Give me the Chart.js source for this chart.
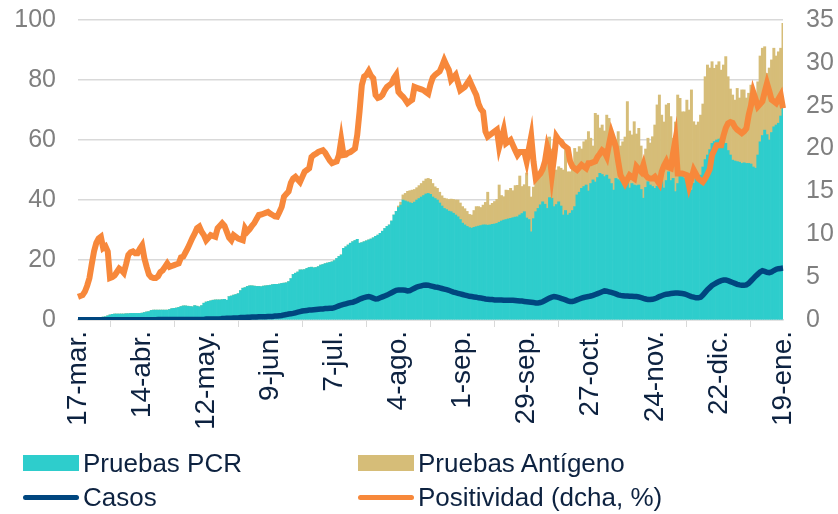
<!DOCTYPE html>
<html>
<head>
<meta charset="utf-8">
<script src="https://cdn.jsdelivr.net/npm/chart.js@4.4.0/dist/chart.umd.min.js"></script>
<style>
body { margin: 0; background: #ffffff; font-family: "Liberation Sans", Arial, sans-serif; }
#wrap { position: relative; width: 838px; height: 514px; }
.legend_swatch { position: absolute; }
.legend_text { position: absolute; color: #0d2240; font-size: 26px; line-height: 30px; white-space: nowrap; }
</style>
</head>
<body>
<div id="wrap">
    <canvas id="chart" width="838" height="514"></canvas>
    <div id="legend"></div>
</div>
<script>
// constants
const TICK_STEP = 28

// one value per day, 17-mar to 19-ene (one week per line)
// tests in thousands
var pcr_tests = [
    0.6, 0.6, 0.6, 0.6, 0.7, 0.7, 0.7,
    0.7, 0.8, 0.8, 0.9, 1.0, 1.1, 1.4,
    1.7, 1.9, 2.0, 2.0, 2.0, 2.0, 2.0,
    2.1, 2.1, 2.2, 2.2, 2.2, 2.2, 2.2,
    2.3, 2.5, 2.7, 2.8, 3.2, 3.3, 3.3,
    3.3, 3.3, 3.3, 3.3, 3.3, 3.5, 3.8,
    3.9, 4.0, 4.2, 4.5, 4.7, 4.7, 4.6,
    4.5, 4.4, 4.8, 4.6, 4.4, 4.8, 5.6,
    6.0, 6.2, 6.4, 6.6, 6.7, 6.7, 6.7,
    6.8, 6.9, 6.6, 7.8, 8.0, 8.3, 8.5,
    8.8, 9.8, 10.6, 10.8, 11.2, 11.4, 11.4,
    11.3, 11.2, 11.2, 11.1, 11.3, 11.4, 11.5,
    11.6, 11.8, 11.9, 11.9, 12.0, 12.2, 12.3,
    12.4, 12.8, 13.8, 15.2, 15.6, 16.0, 16.7,
    16.7, 16.8, 17.2, 17.5, 17.6, 17.4, 17.5,
    17.8, 18.3, 18.5, 18.8, 19.0, 19.2, 19.4,
    19.8, 20.5, 21.2, 21.7, 23.9, 24.4, 25.0,
    25.6, 26.1, 26.5, 26.9, 25.6, 25.8, 26.1,
    26.4, 26.7, 27.0, 27.4, 27.9, 28.3, 28.9,
    29.6, 30.5, 31.2, 31.7, 33.0, 35.0, 36.2,
    37.5, 38.3, 40.0, 39.7, 39.4, 39.1, 38.9,
    39.3, 40.0, 40.5, 41.0, 41.5, 42.0, 42.2,
    41.9, 41.0, 40.5, 40.0, 39.0, 38.0, 37.2,
    36.8, 36.3, 36.1, 35.6, 35.0, 34.4, 33.5,
    32.3, 31.7, 31.2, 30.8, 30.6, 30.9, 31.1,
    31.3, 31.5, 31.7, 31.7, 31.6, 31.7, 31.9,
    32.0, 32.2, 32.6, 33.0, 33.3, 33.5, 33.7,
    33.9, 34.1, 34.3, 34.4, 35.0, 35.5, 36.1,
    34.0, 33.5, 29.4, 33.8, 36.1, 37.2, 38.4,
    39.4, 38.6, 37.2, 40.8, 40.6, 37.8, 38.5,
    39.4, 38.0, 35.0, 36.5, 35.0, 35.6, 36.5,
    37.8, 41.7, 42.6, 43.9, 44.5, 45.0, 43.0,
    45.5, 46.7, 46.0, 47.5, 48.9, 48.5, 47.8,
    48.3, 47.0, 45.5, 43.3, 47.2, 46.8, 46.3,
    46.1, 45.8, 45.6, 44.0, 45.5, 45.0, 44.8,
    45.0, 43.5, 40.6, 44.2, 46.1, 45.0, 44.5,
    43.9, 44.6, 45.3, 46.1, 44.0, 46.5, 49.4,
    46.5, 47.2, 42.8, 45.5, 48.3, 47.8, 47.2,
    46.5, 45.8, 43.3, 45.6, 47.2, 47.6, 48.3,
    51.0, 53.5, 55.0, 56.8, 58.9, 59.5, 60.0,
    60.3, 60.6, 60.0, 58.9, 56.5, 55.0, 53.3,
    53.0, 52.8, 52.6, 52.2, 52.4, 52.2, 52.2,
    52.0, 51.0, 50.6, 55.0, 59.4, 61.5, 63.3,
    61.8, 60.0, 62.5, 64.4, 65.0, 65.6, 68.0,
    70.6
]

var antigen_tests = [
    0, 0, 0, 0, 0, 0, 0,
    0, 0, 0, 0, 0, 0, 0,
    0, 0, 0, 0, 0, 0, 0,
    0, 0, 0, 0, 0, 0, 0,
    0, 0, 0, 0, 0, 0, 0,
    0, 0, 0, 0, 0, 0, 0,
    0, 0, 0, 0, 0, 0, 0,
    0, 0, 0, 0, 0, 0, 0,
    0, 0, 0, 0, 0, 0, 0,
    0, 0, 0, 0, 0, 0, 0,
    0, 0, 0, 0, 0, 0, 0,
    0, 0, 0, 0, 0, 0, 0,
    0, 0, 0, 0, 0, 0, 0,
    0, 0, 0, 0, 0, 0, 0,
    0, 0, 0, 0, 0, 0, 0,
    0, 0, 0, 0, 0, 0, 0,
    0, 0, 0, 0, 0, 0, 0,
    0, 0, 0, 0, 0, 0, 0,
    0, 0, 0, 0, 0, 0, 0,
    0, 0, 0, 0, 0, 0, 0,
    0.5, 1.0, 1.7, 2.5, 3.5, 4.0, 4.4,
    4.2, 4.1, 4.3, 4.5, 4.8, 5.0, 5.0,
    5.0, 4.5, 3.9, 3.9, 3.6, 3.4, 3.4,
    3.6, 3.9, 4.2, 4.6, 5.0, 5.6, 5.5,
    5.5, 5.4, 5.0, 4.4, 4.4, 5.6, 6.7,
    6.5, 6.0, 6.6, 7.5, 11.0, 6.6, 7.0,
    7.5, 8.0, 12.4, 8.5, 7.8, 9.8, 9.5,
    10.0, 9.0, 10.5, 10.5, 13.0, 9.0, 9.0,
    15.0, 11.0, 11.6, 10.5, 10.0, 11.0, 11.0,
    10.0, 12.0, 18.8, 20.2, 16.4, 11.6, 11.5,
    11.7, 12.6, 15.0, 20.2, 14.4, 13.8, 15.5,
    19.4, 14.3, 15.2, 13.1, 14.9, 15.0, 19.8,
    15.1, 11.3, 22.9, 20.8, 15.1, 16.5, 15.2,
    20.0, 20.2, 14.5, 15.6, 12.8, 16.0, 11.7,
    13.3, 15.2, 27.2, 19.0, 16.2, 21.1, 17.2,
    18.9, 14.5, 12.2, 12.8, 14.5, 14.0, 16.6,
    21.1, 27.1, 29.7, 22.2, 22.0, 25.2, 22.8,
    21.3, 13.4, 23.2, 29.5, 25.6, 21.6, 22.2,
    26.8, 24.2, 33.4, 20.5, 17.8, 18.4, 20.0,
    21.0, 27.6, 30.0, 27.2, 27.2, 24.4, 25.0,
    25.8, 22.7, 25.0, 28.9, 24.6, 22.0, 21.7,
    20.3, 24.4, 21.4, 24.5, 24.3, 21.8, 23.4,
    26.3, 24.0, 23.8, 24.4, 28.6, 29.1, 27.8,
    20.4, 24.0, 24.2, 26.2, 23.0, 23.8, 22.6,
    28.3
]

// cases in thousands
var cases = [
    0.1, 0.1, 0.1, 0.1, 0.1, 0.1, 0.1,
    0.1, 0.1, 0.1, 0.1, 0.1, 0.1, 0.1,
    0.1, 0.1, 0.1, 0.1, 0.1, 0.1, 0.1,
    0.1, 0.1, 0.1, 0.1, 0.1, 0.1, 0.1,
    0.1, 0.1, 0.1, 0.1, 0.1, 0.1, 0.1,
    0.15, 0.15, 0.15, 0.15, 0.15, 0.15, 0.15,
    0.15, 0.15, 0.15, 0.15, 0.15, 0.15, 0.15,
    0.2, 0.2, 0.2, 0.2, 0.2, 0.2, 0.2,
    0.3, 0.3, 0.3, 0.3, 0.3, 0.3, 0.3,
    0.5, 0.5, 0.6, 0.6, 0.6, 0.7, 0.7,
    0.7, 0.8, 0.8, 0.8, 0.9, 0.9, 1.0,
    1.0, 1.0, 1.1, 1.1, 1.1, 1.1, 1.2,
    1.2, 1.2, 1.3, 1.3, 1.4, 1.5, 1.7,
    1.8, 2.0, 2.1, 2.2, 2.4, 2.6, 2.8,
    3.0, 3.1, 3.2, 3.3, 3.3, 3.4, 3.5,
    3.6, 3.7, 3.7, 3.8, 3.8, 3.9, 3.9,
    4.1, 4.4, 4.7, 5.0, 5.2, 5.4, 5.6,
    5.8, 5.9, 6.2, 6.5, 6.9, 7.2, 7.5,
    7.7, 7.8, 7.6, 7.3, 7.0, 7.1, 7.4,
    7.7, 8.0, 8.3, 8.7, 9.1, 9.5, 9.9,
    10.0, 10.0, 10.0, 9.9, 9.7, 9.8, 10.2,
    10.6, 11.0, 11.2, 11.4, 11.6, 11.7, 11.6,
    11.4, 11.2, 11.0, 10.9, 10.7, 10.5, 10.3,
    10.1, 9.9, 9.6, 9.3, 9.1, 8.9, 8.7,
    8.5, 8.3, 8.1, 7.9, 7.8, 7.7, 7.6,
    7.4, 7.3, 7.2, 7.0, 6.9, 6.8, 6.8,
    6.7, 6.7, 6.7, 6.7, 6.6, 6.6, 6.6,
    6.6, 6.6, 6.5, 6.4, 6.3, 6.3, 6.2,
    6.1, 6.0, 5.9, 5.8, 5.7, 5.7, 5.8,
    6.1, 6.5, 6.9, 7.3, 7.6, 7.8, 7.7,
    7.5, 7.2, 7.0, 6.7, 6.4, 6.2, 6.2,
    6.4, 6.7, 7.0, 7.3, 7.5, 7.7, 7.8,
    8.0, 8.2, 8.5, 8.8, 9.1, 9.4, 9.7,
    9.6, 9.4, 9.2, 9.0, 8.7, 8.4, 8.2,
    8.1, 8.0, 8.0, 7.9, 7.9, 7.8, 7.8,
    7.7, 7.5, 7.2, 7.0, 6.8, 6.8, 6.9,
    7.1, 7.4, 7.8, 8.1, 8.4, 8.6, 8.7,
    8.8, 8.9, 9.0, 9.0, 8.9, 8.8, 8.7,
    8.4, 8.1, 7.8, 7.6, 7.4, 7.4, 7.6,
    8.3, 9.2, 10.1, 10.8, 11.5, 12.0, 12.4,
    12.8, 13.1, 13.3, 13.3, 13.1, 12.8, 12.5,
    12.2, 11.9, 11.7, 11.6, 11.6, 11.7, 12.2,
    13.0, 13.8, 14.6, 15.3, 16.0, 16.4, 16.2,
    15.9, 15.8, 16.0, 16.5, 16.9, 17.1, 17.2,
    17.3
]

// positivity in %, right axis
var positivity = [
    2.7, 2.8, 2.9, 3.3, 4.0, 4.9, 6.5,
    8.0, 9.0, 9.5, 9.7, 8.4, 8.6, 8.0,
    4.9, 5.0, 5.2, 5.6, 6.0, 5.8, 5.5,
    6.5, 7.6, 7.9, 8.0, 7.8, 7.8, 8.3,
    8.7, 7.2, 6.2, 5.3, 5.0, 4.9, 4.9,
    5.1, 5.6, 5.8, 6.2, 6.6, 6.2, 6.3,
    6.4, 6.5, 6.6, 7.3, 7.4, 7.9, 8.4,
    9.0, 9.6, 10.1, 10.7, 10.9, 10.3, 9.9,
    9.3, 9.6, 9.9, 9.8, 9.7, 10.7, 11.0,
    11.3, 11.0, 10.3, 9.6, 9.3, 9.9, 9.7,
    9.5, 9.4, 9.3, 10.7, 10.3, 10.6, 11.0,
    11.3, 11.8, 12.25, 12.3, 12.4, 12.5, 12.6,
    12.4, 12.25, 12.1, 12.05, 12.6, 13.2, 14.4,
    14.7, 15.0, 16.0, 16.5, 16.7, 16.4, 16.1,
    16.7, 17.3, 17.5, 17.7, 19.0, 19.25, 19.4,
    19.6, 19.7, 19.8, 19.5, 19.05, 18.6, 18.3,
    18.4, 18.5, 19.25, 21.0, 19.25, 19.3, 19.5,
    19.6, 19.8, 20.0, 21.6, 24.3, 27.4, 28.4,
    28.6, 29.05, 28.5, 28.2, 26.25, 25.9, 26.0,
    26.25, 26.8, 27.2, 27.4, 27.6, 28.2, 28.6,
    26.6, 26.3, 26.05, 25.7, 25.3, 25.5, 25.7,
    27.2, 27.1, 27.0, 26.9, 26.8, 26.6, 26.4,
    27.5, 28.3, 28.6, 28.8, 29.0, 29.6, 30.3,
    29.7, 29.2, 28.0, 28.3, 28.6, 27.7, 26.8,
    27.0, 27.2, 27.6, 28.0, 27.4, 26.8, 26.25,
    25.2, 24.6, 24.3, 22.0, 21.4, 21.6, 21.8,
    22.0, 22.2, 20.2, 21.2, 22.2, 20.6, 20.8,
    21.0, 20.4, 19.8, 19.25, 19.6, 19.6, 19.6,
    18.5, 20.0, 21.4, 18.5, 16.5, 16.8, 17.1,
    17.6, 18.5, 20.2, 19.3, 16.9, 19.0, 21.4,
    21.0, 20.8, 20.4, 20.2, 20.0, 18.5, 17.9,
    17.7, 17.5, 17.8, 18.1, 17.9, 17.7, 18.3,
    18.3, 18.4, 18.5, 19.05, 19.4, 19.8, 19.6,
    19.05, 20.5, 21.8, 21.0, 20.2, 18.5, 16.9,
    16.4, 15.9, 16.4, 16.9, 16.7, 16.5, 17.9,
    17.6, 17.3, 18.1, 16.9, 16.6, 16.5, 16.5,
    16.7, 16.3, 15.9, 17.3, 18.0, 18.5, 17.8,
    17.7, 19.5, 21.0, 17.1, 17.1, 17.1, 17.0,
    16.9, 15.6, 16.5, 17.5, 17.0, 16.5, 16.3,
    16.1, 16.5, 17.0, 17.6, 19.25, 19.8, 20.4,
    20.4, 20.4, 21.5, 22.4, 22.95, 23.1, 23.0,
    22.5, 22.2, 22.0, 21.8, 22.0, 22.35, 23.9,
    25.0, 26.6, 25.8, 24.9, 25.2, 25.5, 26.6,
    27.6, 26.7, 25.7, 25.5, 25.3, 25.8, 26.25,
    24.7
]

// one label every TICK_STEP days
var tick_labels = ["17-mar.", "14-abr.", "12-may.", "9-jun.", "7-jul.", "4-ago.",
    "1-sep.", "29-sep.", "27-oct.", "24-nov.", "22-dic.", "19-ene."]

var day_index = pcr_tests.map(function(v, i) { return i })

var chart = null

// fixes the size of a y scale and drops the extra room chart.js keeps for its end labels
function fitYScale(width) {
    return function(scale) {
        scale.width = width
        scale.paddingTop = 0
        scale.paddingBottom = 0
    }
}

function buildChart() {
    const grey_text = "#7f7f7f"
    const navy_text = "#0d2240"
    const grid_color = "#d9d9d9"

    const data = {
        labels: day_index,
        datasets: [{
            label: "Positividad (dcha, %)",
            type: "line",
            data: positivity,
            yAxisID: "y1",
            borderColor: "#f7883b",
            backgroundColor: "#f7883b",
            borderWidth: 6,
            pointRadius: 0,
            order: 0
        }, {
            label: "Casos",
            type: "line",
            data: cases,
            yAxisID: "y",
            stack: "casos",
            borderColor: "#00467f",
            backgroundColor: "#00467f",
            borderWidth: 5.5,
            pointRadius: 0,
            order: 1
        }, {
            label: "Pruebas PCR",
            type: "bar",
            data: pcr_tests,
            yAxisID: "y",
            stack: "tests",
            backgroundColor: "#2ecdcc",
            barPercentage: 1.0,
            categoryPercentage: 1.0,
            order: 2
        }, {
            label: "Pruebas Antígeno",
            type: "bar",
            data: antigen_tests,
            yAxisID: "y",
            stack: "tests",
            backgroundColor: "#d6bd78",
            barPercentage: 1.0,
            categoryPercentage: 1.0,
            order: 3
        }]
    }

    const config = {
        type: "bar",
        data: data,
        options: {
            responsive: false,
            animation: false,
            layout: { padding: { top: 20 } },
            plugins: {
                legend: { display: false },
                tooltip: { enabled: false }
            },
            scales: {
                x: {
                    stacked: true,
                    offset: false,
                    afterFit: function(scale) {
                        scale.height = 194
                        scale.paddingLeft = 0
                        scale.paddingRight = 0
                    },
                    grid: {
                        drawOnChartArea: false,
                        drawTicks: true,
                        tickLength: 7,
                        color: grid_color
                    },
                    border: { color: grid_color, width: 1.5 },
                    ticks: {
                        autoSkip: false,
                        maxRotation: 90,
                        minRotation: 90,
                        padding: 4,
                        color: navy_text,
                        font: { family: "Liberation Sans", size: 28 },
                        callback: function(value, index) {
                            if (index % TICK_STEP == 0) {
                                return tick_labels[index / TICK_STEP]
                            }
                            return null
                        }
                    }
                },
                y: {
                    stacked: true,
                    min: 0,
                    max: 100,
                    afterFit: fitYScale(78),
                    grid: { color: grid_color, lineWidth: 1.5, drawTicks: false },
                    border: { display: false },
                    ticks: {
                        stepSize: 20,
                        padding: 22,
                        color: grey_text,
                        font: { family: "Liberation Sans", size: 25 }
                    }
                },
                y1: {
                    position: "right",
                    min: 0,
                    max: 35,
                    afterFit: fitYScale(55),
                    grid: { drawOnChartArea: false, drawTicks: false },
                    border: { display: false },
                    ticks: {
                        stepSize: 5,
                        padding: 23,
                        color: grey_text,
                        font: { family: "Liberation Sans", size: 25 }
                    }
                }
            }
        }
    }

    chart = new Chart(document.getElementById("chart"), config)
}

// html legend in two columns, like the original
function buildLegendHTML() {
    const COLUMN_X = [23, 358]
    const ROW_Y = [463, 497]
    // order of items in the legend: PCR, Antígeno, Casos, Positividad
    const items = [2, 3, 1, 0]
    var html = ""
    for (var i = 0; i < items.length; i++) {
        var ds = chart.data.datasets[items[i]]
        var x = COLUMN_X[i % 2]
        var y = ROW_Y[Math.floor(i / 2)]
        if (ds.type == "bar") {
            html += "<div class='legend_swatch' style='left:" + x + "px;top:" + (y - 8) +
                "px;width:56px;height:16px;background:" + ds.backgroundColor + "'></div>"
        } else {
            html += "<div class='legend_swatch' style='left:" + x + "px;top:" + (y - 2.5) +
                "px;width:56px;height:5px;border-radius:3px;background:" + ds.borderColor + "'></div>"
        }
        html += "<div class='legend_text' style='left:" + (x + 60) + "px;top:" + (y - 15) + "px'>" +
            ds.label + "</div>"
    }
    document.getElementById("legend").innerHTML = html
}

buildChart()
buildLegendHTML()
</script>
</body>
</html>
